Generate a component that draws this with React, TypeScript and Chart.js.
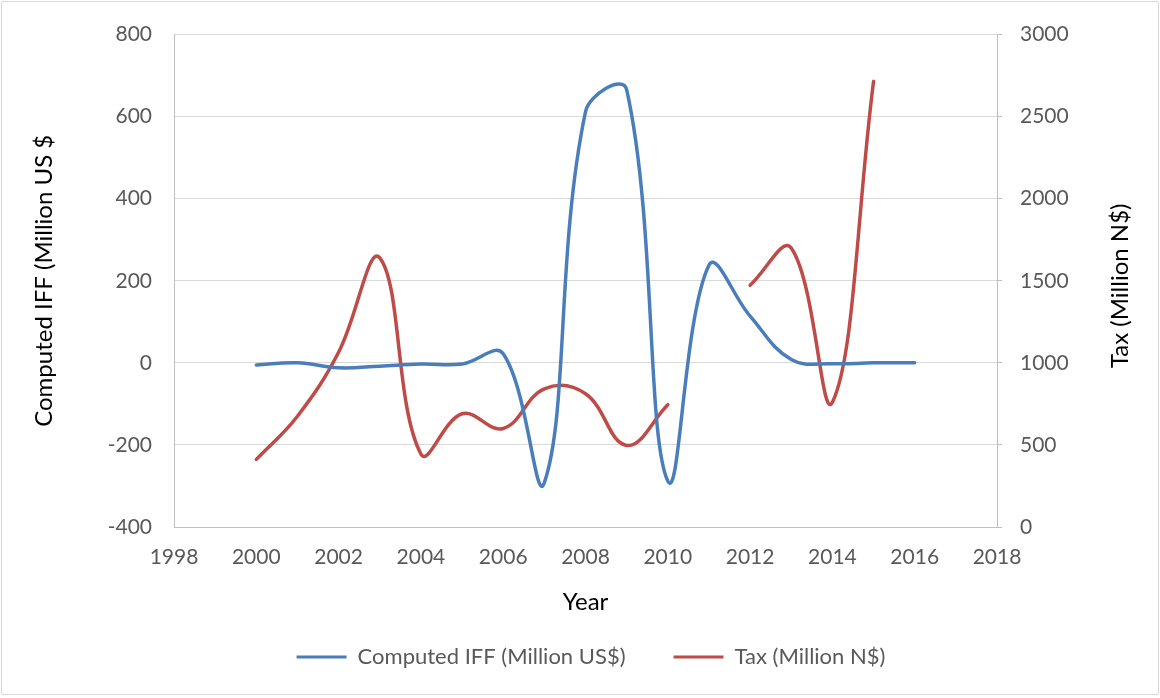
import React, { useEffect, useRef } from "react";
import { Chart, registerables } from "chart.js";

Chart.register(...registerables);

const iffYears = [2000, 2001, 2002, 2003, 2004, 2005, 2006, 2007, 2008, 2009, 2010, 2011, 2012, 2013, 2014, 2015, 2016];
const iffValues = [-5, 0, -12, -8, -3, -3, 22, -292, 612, 666, -288, 238, 114, 8, -2, 0, 0];

const taxYears = [2000, 2001, 2002, 2003, 2004, 2005, 2006, 2007, 2008, 2009, 2010, 2011, 2012, 2013, 2014, 2015];
const taxValues: (number | null)[] = [412, 675, 1065, 1640, 445, 690, 600, 842, 812, 497, 745, null, 1473, 1700, 760, 2715];

const xTicks = { min: 1998, max: 2018, step: 2 };
const leftTicks = { min: -400, max: 800, step: 200 };
const rightTicks = { min: 0, max: 3000, step: 500 };

const seriesNames = ["Computed IFF (Million US$)", "Tax (Million N$)"];
const leftTitle = "Computed IFF (Million US $";
const rightTitle = "Tax (Million N$)";
const xTitle = "Year";

const FONT = "Lato, 'Open Sans', sans-serif";
const BLUE = "#4a7ebb";
const RED = "#be4b48";

const LEGEND_PAD = 48;

export default function App() {
  const ref = useRef<HTMLCanvasElement | null>(null);

  useEffect(() => {
    if (!ref.current) return;
    const rightTitlePlugin = {
      id: "rightTitle",
      afterDraw(chart: any) {
        const { ctx, chartArea } = chart;
        ctx.save();
        ctx.translate(1120, (chartArea.top + chartArea.bottom) / 2 + 5);
        ctx.rotate(-Math.PI / 2);
        ctx.font = `24px ${FONT}`;
        ctx.fillStyle = "#000000";
        ctx.textAlign = "center";
        ctx.textBaseline = "middle";
        ctx.fillText(rightTitle, 0, 0);
        ctx.restore();
      },
    };

    const chart = new Chart(ref.current, {
      type: "line",
      data: {
        datasets: [
          {
            label: seriesNames[0],
            data: iffYears.map((x, i) => ({ x, y: iffValues[i] })),
            borderColor: BLUE,
            backgroundColor: BLUE,
            borderWidth: 3.5,
            pointRadius: 0,
            tension: 0.4,
            yAxisID: "y",
          },
          {
            label: seriesNames[1],
            data: taxYears.map((x, i) => ({ x, y: taxValues[i] })),
            borderColor: RED,
            backgroundColor: RED,
            borderWidth: 3.5,
            pointRadius: 0,
            tension: 0.4,
            spanGaps: false,
            yAxisID: "y1",
          },
        ],
      },
      options: {
        animation: false,
        responsive: false,
        maintainAspectRatio: false,
        layout: { padding: { top: 32, left: 22, right: 0, bottom: 20 } },
        elements: { line: { capBezierPoints: false, borderCapStyle: "round" } },
        plugins: {
          tooltip: { enabled: false },
          legend: {
            position: "bottom",
            labels: {
              boxWidth: 50,
              boxHeight: 3,
              padding: LEGEND_PAD,
              color: "#595959",
              font: { family: FONT, size: 22 },
              generateLabels: (c: any) =>
                c.data.datasets.map((d: any, i: number) => ({
                  text: d.label,
                  fillStyle: d.borderColor,
                  strokeStyle: d.borderColor,
                  lineWidth: 0,
                  hidden: false,
                  datasetIndex: i,
                  fontColor: "#595959",
                })),
            },
          },
        },
        scales: {
          x: {
            type: "linear",
            min: xTicks.min,
            max: xTicks.max,
            afterFit: (s: any) => {
              s.height = 119 - LEGEND_PAD;
            },
            ticks: {
              stepSize: xTicks.step,
              padding: 18,
              color: "#595959",
              font: { family: FONT, size: 21 },
              callback: (v: any) => String(v),
              maxRotation: 0,
            },
            grid: { display: false, drawTicks: false },
            border: { display: true, color: "#bfbfbf", width: 1 },
            title: {
              display: true,
              text: xTitle,
              color: "#000000",
              font: { family: FONT, size: 24 },
              padding: { top: 0, bottom: 29.6 - LEGEND_PAD },
            },
          },
          y: {
            position: "left",
            min: leftTicks.min,
            max: leftTicks.max,
            afterFit: (s: any) => {
              s.width = 152;
            },
            ticks: {
              stepSize: leftTicks.step,
              padding: 22,
              color: "#595959",
              font: { family: FONT, size: 21 },
              callback: (v: any) => String(v),
            },
            grid: { color: "#d9d9d9", lineWidth: 1, drawTicks: false },
            border: { display: true, color: "#bfbfbf", width: 1 },
            title: {
              display: true,
              text: leftTitle,
              color: "#000000",
              font: { family: FONT, size: 24 },
              padding: { top: 8, bottom: 0 },
            },
          },
          y1: {
            position: "right",
            min: rightTicks.min,
            max: rightTicks.max,
            afterFit: (s: any) => {
              s.width = 163;
            },
            ticks: {
              stepSize: rightTicks.step,
              padding: 18,
              color: "#595959",
              font: { family: FONT, size: 21 },
              callback: (v: any) => String(v),
            },
            grid: { drawOnChartArea: false, color: "#bfbfbf", tickLength: 5, drawTicks: true },
            border: { display: true, color: "#bfbfbf", width: 1 },
          },
        },
      } as any,
      plugins: [rightTitlePlugin],
    });
    return () => chart.destroy();
  }, []);

  return (
    <div style={{ position: "absolute", left: 0, top: 0, width: 1160, height: 698, background: "#ffffff" }}>
      <canvas ref={ref} width={1160} height={698} style={{ position: "absolute", left: 0, top: 0 }} />
      <div
        style={{
          position: "absolute",
          left: 1,
          top: 1,
          width: 1156,
          height: 692,
          border: "1px solid #d9d9d9",
          pointerEvents: "none",
        }}
      />
    </div>
  );
}
